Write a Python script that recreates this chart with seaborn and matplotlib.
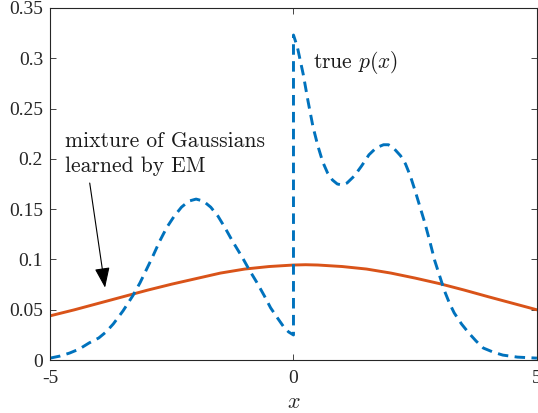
import matplotlib
matplotlib.use("Agg")
import matplotlib.pyplot as plt
import seaborn as sns
import pandas as pd

# true density p(x) (dashed)
true_x = [-5.0, -4.8, -4.6, -4.4, -4.2, -4.0, -3.85, -3.7, -3.5, -3.3, -3.15, -2.9, -2.75, -2.6,
          -2.45, -2.3, -2.15, -2.0, -1.85, -1.7, -1.55, -1.4, -1.25,
          -1.05, -0.9, -0.75, -0.6, -0.47, -0.33, -0.2, -0.1, 0.0, 0.0, 0.08, 0.2, 0.3, 0.4, 0.5,
          0.6, 0.7, 0.8, 0.9, 1.0, 1.1, 1.25, 1.4,
          1.55, 1.7, 1.85, 1.95, 2.05, 2.2, 2.3, 2.4, 2.5, 2.6, 2.7, 2.8, 2.9, 3.0, 3.1, 3.2, 3.3,
          3.45, 3.6, 3.75, 3.9, 4.1, 4.3, 4.6, 5.0]
true_y = [0.002, 0.004, 0.007, 0.011, 0.017, 0.022, 0.028, 0.036, 0.049, 0.064, 0.077, 0.102,
          0.118, 0.132, 0.143, 0.152, 0.158, 0.160, 0.158, 0.152, 0.143, 0.131, 0.118,
          0.102, 0.089, 0.077, 0.064, 0.052, 0.042, 0.033, 0.028, 0.025, 0.323, 0.311, 0.284, 0.257,
          0.232, 0.213, 0.197, 0.186, 0.179, 0.175, 0.174, 0.176, 0.183, 0.193,
          0.204, 0.211, 0.214, 0.214, 0.211, 0.203, 0.195, 0.183, 0.168, 0.152, 0.136, 0.118,
          0.099, 0.084, 0.069, 0.057, 0.047, 0.036, 0.027, 0.019, 0.012, 0.008, 0.005, 0.003, 0.002]

# mixture of Gaussians learned by EM (solid)
gmm_x = [-5, -4.5, -4, -3.5, -3, -2.5, -2, -1.5, -1, -0.5, 0, 0.25, 0.5, 1, 1.5, 2, 2.5, 3,
         3.5, 4, 4.5, 5]
gmm_y = [0.044, 0.050, 0.0565, 0.063, 0.0695, 0.0755, 0.081, 0.0865, 0.0905, 0.093, 0.0945,
         0.0948, 0.0945, 0.093, 0.0905, 0.0865, 0.0815, 0.076, 0.0697, 0.063, 0.0565, 0.050]

x_ticks = [-5, 0, 5]
x_ticklabels = ["-5", "0", "5"]
y_ticks = [0, 0.05, 0.1, 0.15, 0.2, 0.25, 0.3, 0.35]
y_ticklabels = ["0", "0.05", "0.1", "0.15", "0.2", "0.25", "0.3", "0.35"]

sns.set_style("ticks")
plt.rcParams["font.family"] = ["Liberation Serif", "DejaVu Serif"]
plt.rcParams["mathtext.fontset"] = "cm"

fig = plt.figure(figsize=(5.38, 4.13), dpi=100)
ax = fig.add_axes([0.093, 0.128, 0.905, 0.853])

df_true = pd.DataFrame({"x": true_x, "y": true_y})
df_gmm = pd.DataFrame({"x": gmm_x, "y": gmm_y})

sns.lineplot(data=df_gmm, x="x", y="y", ax=ax, color="#D95319", linewidth=2.1,
             sort=False, estimator=None)
sns.lineplot(data=df_true, x="x", y="y", ax=ax, color="#0072BD", linewidth=2.1,
             sort=False, estimator=None, linestyle=(0, (3.6, 2.2)))

ax.set_xlim(-5, 5)
ax.set_ylim(0, 0.35)
ax.set_xticks(x_ticks)
ax.set_xticklabels(x_ticklabels)
ax.set_yticks(y_ticks)
ax.set_yticklabels(y_ticklabels)
ax.tick_params(direction="in", length=4, width=0.6, top=True, right=True,
               labelsize=14, colors="#262626", pad=5)
ax.tick_params(axis="x", pad=7)
for s in ax.spines.values():
    s.set_linewidth(0.8)
    s.set_color("#262626")
    s.set_visible(True)

ax.set_xlabel(r"$x$", fontsize=16, labelpad=5)
ax.set_ylabel("")

ax.text(0.41, 0.296, r"true $p(x)$", fontsize=15.5, family="cmr10",
        va="center", ha="left", color="#1a1a1a")
ax.annotate("mixture of Gaussians\nlearned by EM", xy=(-3.87, 0.072), xytext=(-4.7, 0.205),
            fontsize=15.5, family="cmr10", va="center", ha="left", color="#1a1a1a",
            linespacing=1.3,
            arrowprops=dict(arrowstyle="-|>,head_length=0.8,head_width=0.3",
                            color="black", lw=0.8, shrinkA=3, shrinkB=0,
                            relpos=(0.12, 0.0)))

fig.savefig("out.png", dpi=100)
